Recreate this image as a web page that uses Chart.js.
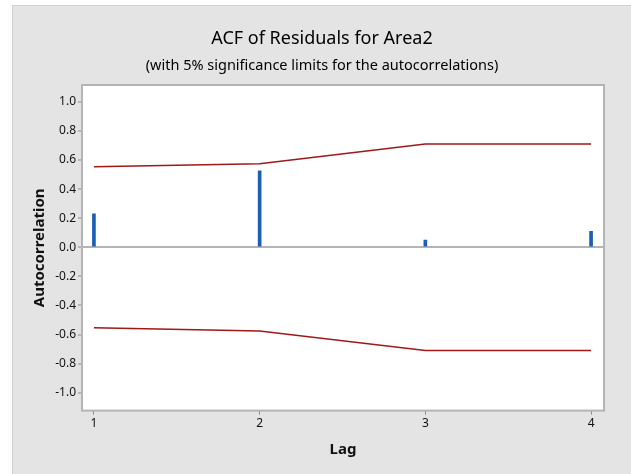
<!DOCTYPE html>
<html>
<head>
<meta charset="utf-8">
<script src="https://cdn.jsdelivr.net/npm/chart.js@4"></script>
<style>
  html, body { margin: 0; padding: 0; background: #ffffff; }
  #panel {
    position: absolute; left: 12px; top: 5px; width: 619px; height: 469px;
    background: #e4e4e4; border-left: 1px solid #d2d2d2; border-top: 1px solid #d2d2d2;
    box-sizing: border-box;
  }
  #panel canvas { display: block; }
</style>
</head>
<body>
<div id="panel"><canvas id="acfChart" width="618" height="468"></canvas></div>
<script>
    // data
    var lags = [1, 2, 3, 4];
    var acfValues = [0.23, 0.525, 0.05, 0.11];
    var upperLimits = [0.553, 0.575, 0.71, 0.71];
    var lowerLimits = [-0.553, -0.575, -0.71, -0.71];
    var yTicks = [-1.0, -0.8, -0.6, -0.4, -0.2, 0.0, 0.2, 0.4, 0.6, 0.8, 1.0];

    var titleText = "ACF of Residuals for Area2";
    var subtitleText = "(with 5% significance limits for the autocorrelations)";

    function points(xs, ys) {
        return xs.map(function (x, i) { return {x: x, y: ys[i]}; });
    }

    var fontFamily = "'Noto Sans', 'Open Sans', sans-serif";

    /**
     * Plot frame and titles
     */
    var framePlugin = {
        id: 'frame',
        beforeDraw: function (chart) {
            var a = chart.chartArea, ctx = chart.ctx;
            ctx.save();
            ctx.fillStyle = '#ffffff';
            ctx.fillRect(a.left, a.top, a.right - a.left, a.bottom - a.top);
            ctx.restore();
        },
        afterDraw: function (chart) {
            var a = chart.chartArea, ctx = chart.ctx;
            ctx.save();
            ctx.strokeStyle = '#b4b4b4';
            ctx.lineWidth = 2;
            ctx.strokeRect(a.left, a.top, a.right - a.left, a.bottom - a.top);
            var cx = chart.width / 2;
            ctx.fillStyle = '#000000';
            ctx.textAlign = 'center';
            ctx.textBaseline = 'middle';
            ctx.font = "18px " + fontFamily;
            ctx.fillText(titleText, cx, 33);
            ctx.font = "14.5px " + fontFamily;
            ctx.fillText(subtitleText, cx, 60);
            ctx.restore();
        }
    };

    var acfData = {
        datasets: [
            {
                type: 'bar',
                label: 'ACF',
                data: points(lags, acfValues),
                backgroundColor: '#1a5fb4',
                barThickness: 3,
                order: 2
            },
            {
                type: 'line',
                label: 'Upper limit',
                data: points(lags, upperLimits),
                borderColor: '#a01818',
                borderWidth: 1.5,
                pointRadius: 0,
                tension: 0,
                fill: false,
                order: 1
            },
            {
                type: 'line',
                label: 'Lower limit',
                data: points(lags, lowerLimits),
                borderColor: '#a01818',
                borderWidth: 1.5,
                pointRadius: 0,
                tension: 0,
                fill: false,
                order: 1
            }
        ]
    };

    var acfOptions = {
        responsive: false,
        animation: false,
        layout: {padding: {top: 79, right: 27, bottom: 0, left: 0}},
        plugins: {
            legend: {display: false},
            tooltip: {enabled: false}
        },
        scales: {
            x: {
                type: 'linear',
                offset: false,
                min: 0.928,
                max: 4.078,
                afterBuildTicks: function (axis) {
                    axis.ticks = lags.map(function (v) { return {value: v}; });
                },
                grid: {display: true, offset: false, drawOnChartArea: false, tickLength: 4, tickColor: '#8a8a8a'},
                border: {display: false},
                ticks: {
                    color: '#111111', font: {family: fontFamily, size: 12}, padding: 2,
                    callback: function (v) { return String(v); }
                },
                title: {
                    display: true, text: 'Lag', color: '#111111',
                    font: {family: fontFamily, size: 15, weight: 'bold'},
                    padding: {top: 8, bottom: 15}
                }
            },
            y: {
                min: -1.123,
                max: 1.116,
                afterBuildTicks: function (axis) {
                    axis.ticks = yTicks.map(function (v) { return {value: v}; });
                },
                afterFit: function (axis) { axis.width = 69; },
                grid: {
                    color: function (c) { return c.tick && Math.abs(c.tick.value) < 1e-9 ? '#b4b4b4' : 'rgba(0,0,0,0)'; },
                    lineWidth: 2,
                    tickLength: 4,
                    tickColor: '#8a8a8a',
                    tickWidth: 1
                },
                border: {display: false},
                ticks: {
                    color: '#111111', font: {family: fontFamily, size: 12}, padding: 2,
                    callback: function (v) { return Number(v).toFixed(1); }
                },
                title: {
                    display: true, text: 'Autocorrelation', color: '#111111',
                    font: {family: fontFamily, size: 15, weight: 'bold'},
                    padding: {top: 18, bottom: 4}
                }
            }
        }
    };

    var ctx = document.getElementById("acfChart").getContext("2d");
    new Chart(ctx, {data: acfData, options: acfOptions, plugins: [framePlugin]});
</script>
</body>
</html>
